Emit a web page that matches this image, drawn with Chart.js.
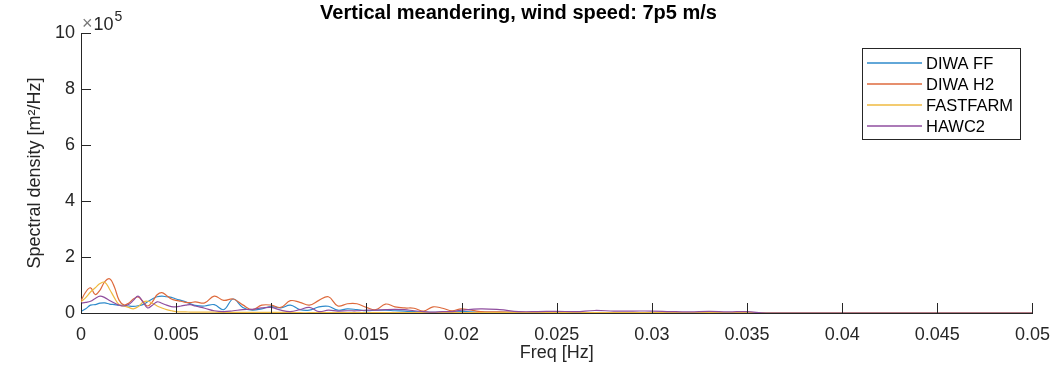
<!DOCTYPE html>
<html>
<head>
<meta charset="utf-8">
<script src="https://cdn.jsdelivr.net/npm/chart.js@4.4.1/dist/chart.umd.min.js"></script>
<style>
html,body{margin:0;padding:0;background:#fff;}
#wrap{width:1061px;height:371px;}
</style>
</head>
<body>
<div id="wrap"><canvas id="myChart" width="1061" height="371"></canvas></div>
<script>
// values are in units of 1e5 m^2/Hz (axis shows x10^5)
var freq=[0,0.00025,0.0005,0.00075,0.001,0.00125,0.0015,0.00175,0.002,0.00225,0.0025,0.00275,0.003,0.00325,0.0035,0.00375,0.004,0.00425,0.0045,0.00475,0.005,0.00525,0.0055,0.00575,0.006,
0.0065,0.007,0.0075,0.008,0.0085,0.009,0.0095,0.01,0.0105,0.011,0.0115,0.012,0.0125,0.013,0.0135,0.014,0.0145,0.015,0.0155,0.016,0.0165,0.017,0.0175,0.018,0.0185,0.019,0.0195,0.02,
0.021,0.022,0.023,0.024,0.025,0.026,0.027,0.028,0.029,0.03,0.031,0.032,0.033,0.034,0.035,0.036,
0.05];

var diwaFF=[0.05,0.15,0.28,0.3,0.35,0.36,0.32,0.3,0.28,0.27,0.25,0.24,0.26,0.3,0.4,0.5,0.58,0.6,0.58,0.56,0.5,0.45,0.4,0.33,0.27,
0.25,0.3,0.12,0.5,0.2,0.1,0.15,0.23,0.18,0.28,0.12,0.1,0.22,0.24,0.1,0.15,0.12,0.08,0.1,0.1,0.08,0.07,0.05,0.03,0.02,0.03,0.06,0.06,
0.03,0.02,0.02,0.01,0.01,0.01,0.01,0.01,0.01,0.01,0.01,0.01,0.01,0.01,0.01,0,
0];

var diwaH2=[0.44,0.75,0.9,0.66,0.82,1.12,1.22,0.94,0.46,0.29,0.35,0.5,0.57,0.42,0.25,0.4,0.65,0.73,0.62,0.5,0.45,0.42,0.38,0.37,0.4,
0.36,0.6,0.45,0.5,0.29,0.12,0.28,0.28,0.2,0.44,0.38,0.28,0.45,0.58,0.25,0.33,0.33,0.2,0.12,0.32,0.22,0.18,0.17,0.07,0.22,0.17,0.08,0.15,
0.05,0.04,0.03,0.02,0.02,0.02,0.01,0.01,0.01,0.01,0.01,0.01,0.01,0.01,0.01,0,
0];

var fastfarm=[0.4,0.55,0.75,0.9,1.05,1.1,0.85,0.55,0.3,0.25,0.2,0.15,0.22,0.38,0.42,0.35,0.25,0.18,0.12,0.08,0.05,0.04,0.04,0.03,0.03,
0.03,0.03,0.02,0.02,0.02,0.02,0.02,0.02,0.02,0.02,0.01,0.01,0.01,0.01,0.01,0.01,0.01,0.01,0.01,0.01,0.01,0.01,0.01,0.01,0.01,0.01,0.01,0.01,
0.01,0.01,0.01,0.01,0.01,0.01,0.01,0.01,0.01,0.01,0.01,0.01,0.01,0.01,0.01,0,
0];

var hawc2=[0.35,0.38,0.42,0.52,0.6,0.55,0.45,0.36,0.28,0.25,0.3,0.45,0.6,0.4,0.18,0.28,0.4,0.35,0.28,0.23,0.22,0.25,0.28,0.3,0.25,
0.17,0.08,0.05,0.08,0.12,0.13,0.18,0.2,0.1,0.05,0.12,0.2,0.05,0.1,0.07,0.08,0.08,0.1,0.1,0.12,0.13,0.12,0.08,0.05,0.03,0.05,0.05,0.1,
0.15,0.12,0.05,0.05,0.06,0.05,0.09,0.07,0.07,0.07,0.05,0.04,0.06,0.04,0.05,0,
0];

var xTicks=[0,0.005,0.01,0.015,0.02,0.025,0.03,0.035,0.04,0.045,0.05];
var yTicks=[0,2,4,6,8,10];

var FONT='"Liberation Sans", Arial, Helvetica, sans-serif';
var TXT='#262626';

function pts(ys){
  return freq.map(function(f,i){return {x:f,y:ys[i]};});
}
function series(label,color,ys,order){
  return {label:label,data:pts(ys),borderColor:color,backgroundColor:color,
    borderWidth:1.2,pointRadius:0,tension:0.4,fill:false,order:order};
}

// inward ticks, x10^5 marker and MATLAB style legend box
var matlabBits={
  id:'matlabBits',
  afterDraw:function(chart){
    var c=chart.ctx, a=chart.chartArea, xs=chart.scales.x, ys=chart.scales.y;
    c.save();
    c.strokeStyle=TXT; c.lineWidth=1;
    c.beginPath();
    xTicks.forEach(function(t){
      var px=Math.round(xs.getPixelForValue(t))+0.5;
      c.moveTo(px,a.bottom); c.lineTo(px,a.bottom-10);
    });
    yTicks.forEach(function(t){
      var py=Math.round(ys.getPixelForValue(t))+0.5;
      c.moveTo(a.left,py); c.lineTo(a.left+10,py);
    });
    c.stroke();

    // exponent label
    c.textBaseline='alphabetic';
    c.font='18px '+FONT;
    c.fillStyle='#777';
    c.fillText('\u00d7',a.left+1,a.top-4);
    var w1=c.measureText('\u00d7').width;
    c.fillStyle=TXT;
    c.fillText('10',a.left+2+w1,a.top-3);
    var w2=c.measureText('10').width;
    c.font='14px '+FONT;
    c.fillText('5',a.left+3+w1+w2,a.top-12);

    // legend
    var lx=862, ly=48, lw=158, lh=91;
    c.fillStyle='#fff';
    c.fillRect(lx,ly,lw,lh);
    c.strokeStyle=TXT;
    c.lineWidth=1;
    c.strokeRect(lx+0.5,ly+0.5,lw,lh);
    c.font='16.5px '+FONT;
    c.textBaseline='middle';
    chart.data.datasets.forEach(function(ds,i){
      var yy=Math.round(ly+15+i*21);
      c.strokeStyle=ds.borderColor; c.lineWidth=1.5;
      c.beginPath(); c.moveTo(lx+5,yy); c.lineTo(lx+60,yy); c.stroke();
      c.fillStyle='#000';
      c.fillText(ds.label,lx+64,yy+1);
    });
    c.restore();
  }
};

var chart=new Chart(document.getElementById('myChart').getContext('2d'),{
  type:'line',
  data:{datasets:[
    series('DIWA FF','#2E8ACB',diwaFF,4),
    series('DIWA H2','#DE6A3C',diwaH2,3),
    series('FASTFARM','#EFBA40',fastfarm,2),
    series('HAWC2','#8F4E9F',hawc2,1)
  ]},
  options:{
    responsive:false,
    animation:false,
    layout:{padding:{left:0,right:24,top:0,bottom:0}},
    plugins:{
      legend:{display:false},
      tooltip:{enabled:false},
      title:{display:true,text:'Vertical meandering, wind speed: 7p5 m/s',
        color:'#000',font:{family:FONT,size:20,weight:'bold'},padding:{top:1,bottom:8}}
    },
    scales:{
      x:{type:'linear',min:0,max:0.05,
        afterFit:function(s){s.height=58;},
        afterBuildTicks:function(s){s.ticks=xTicks.map(function(v){return {value:v};});},
        ticks:{color:TXT,font:{family:FONT,size:18},padding:11,maxRotation:0,
          callback:function(v){return String(+v.toFixed(3));}},
        grid:{display:true,drawOnChartArea:false,drawTicks:false},
        border:{display:true,color:TXT},
        title:{display:true,text:'Freq [Hz]',color:TXT,font:{family:FONT,size:18},padding:{top:0,bottom:7}}
      },
      y:{min:0,max:10,
        afterFit:function(s){s.width=81;},
        afterBuildTicks:function(s){s.ticks=yTicks.map(function(v){return {value:v};});},
        ticks:{color:TXT,font:{family:FONT,size:18},padding:6},
        grid:{display:true,drawOnChartArea:false,drawTicks:false},
        border:{display:true,color:TXT},
        title:{display:true,text:'Spectral density [m\u00b2/Hz]',color:TXT,font:{family:FONT,size:18},padding:{top:24,bottom:0}}
      }
    }
  },
  plugins:[matlabBits]
});
</script>
</body>
</html>
